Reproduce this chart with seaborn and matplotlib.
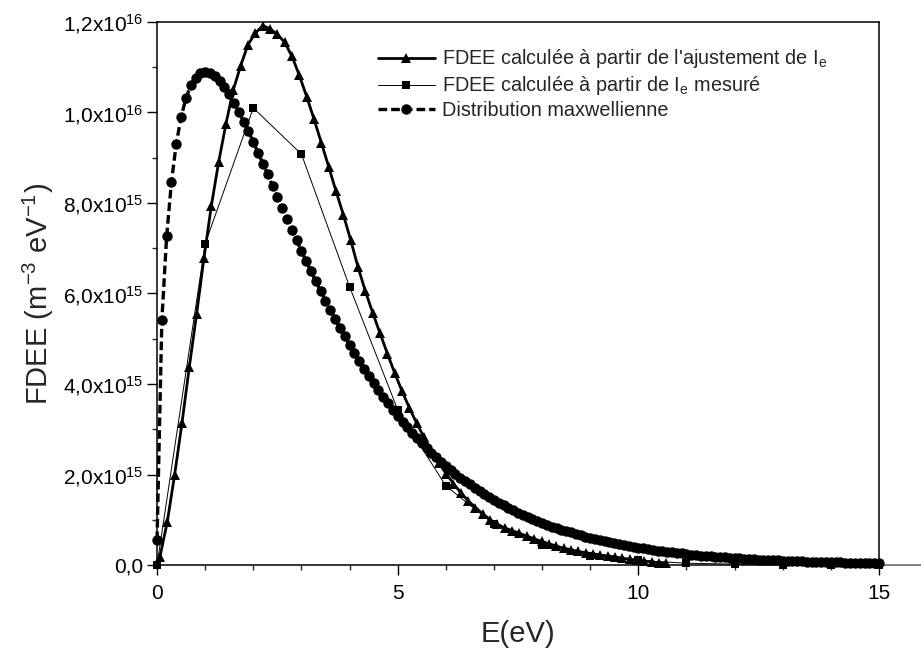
import numpy as np
import matplotlib
matplotlib.use('Agg')
import matplotlib.pyplot as plt
import matplotlib.ticker as ticker
import seaborn as sns

# Distribution maxwellienne (cercles), pas de 0,1 eV, valeurs en 1e15 m^-3 eV^-1
E_max = np.round(np.linspace(0, 15, 151), 1)
f_max = [0.55, 5.41, 7.27, 8.47, 9.31, 9.90, 10.31, 10.60, 10.77, 10.87,
         10.90, 10.87, 10.80, 10.70, 10.56, 10.40, 10.21, 10.01, 9.80, 9.58,
         9.35, 9.11, 8.87, 8.63, 8.38, 8.14, 7.90, 7.65, 7.41, 7.18,
         6.94, 6.71, 6.49, 6.27, 6.05, 5.84, 5.64, 5.43, 5.24, 5.05,
         4.86, 4.68, 4.51, 4.34, 4.18, 4.02, 3.87, 3.72, 3.57, 3.43,
         3.30, 3.17, 3.04, 2.92, 2.81, 2.69, 2.59, 2.48, 2.38, 2.28,
         2.19, 2.10, 2.01, 1.93, 1.85, 1.78, 1.70, 1.63, 1.57, 1.50,
         1.44, 1.37, 1.32, 1.26, 1.21, 1.16, 1.11, 1.06, 1.01, 0.97,
         0.93, 0.89, 0.85, 0.82, 0.78, 0.75, 0.72, 0.68, 0.66, 0.63,
         0.60, 0.57, 0.55, 0.53, 0.50, 0.48, 0.46, 0.44, 0.42, 0.40,
         0.38, 0.37, 0.35, 0.33, 0.32, 0.31, 0.29, 0.28, 0.27, 0.26,
         0.24, 0.23, 0.22, 0.21, 0.20, 0.19, 0.185, 0.18, 0.17, 0.16,
         0.15, 0.148, 0.14, 0.134, 0.128, 0.12, 0.117, 0.112, 0.107, 0.10,
         0.097, 0.093, 0.089, 0.085, 0.081, 0.077, 0.074, 0.070, 0.067, 0.064,
         0.061, 0.059, 0.056, 0.053, 0.051, 0.049, 0.046, 0.044, 0.042, 0.040,
         0.038]

# FDEE calculee a partir de l'ajustement de Ie (triangles)
E_fit = np.linspace(0.06, 10.58, 70)
f_fit = [0.18, 0.95, 1.99, 3.13, 4.37, 5.55, 6.78, 7.93, 8.90, 9.75,
         10.50, 11.03, 11.50, 11.75, 11.92, 11.85, 11.73, 11.55, 11.24, 10.82,
         10.35, 9.85, 9.33, 8.80, 8.26, 7.74, 7.18, 6.58, 6.05, 5.57,
         5.12, 4.67, 4.24, 3.84, 3.47, 3.13, 2.82, 2.53, 2.26, 2.02,
         1.80, 1.60, 1.42, 1.27, 1.13, 1.00, 0.90, 0.82, 0.76, 0.70,
         0.64, 0.58, 0.52, 0.47, 0.42, 0.37, 0.34, 0.30, 0.27, 0.25,
         0.22, 0.20, 0.18, 0.15, 0.13, 0.11, 0.09, 0.07, 0.05, 0.04]

# FDEE calculee a partir de Ie mesure (carres)
E_mes = [0, 1, 2, 3, 4, 5, 6, 7, 8, 9, 10, 11, 12, 13, 14, 15, 16]
f_mes = [0.0, 7.10, 10.10, 9.08, 6.15, 3.43, 1.75, 0.90, 0.45, 0.20,
         0.10, 0.04, 0.02, 0.01, 0.01, 0.0, 0.0]

labels = ["FDEE calculée à partir de l'ajustement de I$_{e}$",
          "FDEE calculée à partir de I$_{e}$ mesuré",
          "Distribution maxwellienne"]

sns.set_style('ticks')
plt.rcParams['font.family'] = ['Liberation Sans', 'DejaVu Sans']
plt.rcParams['mathtext.fontset'] = 'custom'
plt.rcParams['mathtext.rm'] = 'Liberation Sans'
plt.rcParams['mathtext.it'] = 'Liberation Sans'
plt.rcParams['mathtext.bf'] = 'Liberation Sans:bold'

fig = plt.figure(figsize=(9.21, 6.52), dpi=100)
ax = fig.add_axes([0.1705, 0.1334, 0.7839, 0.8329])

sns.lineplot(x=E_fit, y=np.array(f_fit) * 1e15, ax=ax, color='black',
             linewidth=2.0, marker='^', markersize=7.5, markeredgewidth=0,
             sort=False, estimator=None, label=labels[0], clip_on=False, zorder=3)
sns.lineplot(x=E_mes, y=np.array(f_mes) * 1e15, ax=ax, color='black',
             linewidth=0.7, marker='s', markersize=5.5, markeredgewidth=0,
             sort=False, estimator=None, label=labels[1], clip_on=False, zorder=4)
sns.lineplot(x=E_max, y=np.array(f_max) * 1e15, ax=ax, color='black',
             linewidth=2.4, marker='o', markersize=7.5, markeredgewidth=0,
             sort=False, estimator=None, label=labels[2], clip_on=False, zorder=2)
ax.lines[-1].set_dashes([2.6, 1.2])

ax.set_xlim(0, 15)
ax.set_ylim(0, 1.2e16)

ax.xaxis.set_major_locator(ticker.MultipleLocator(5))
ax.xaxis.set_minor_locator(ticker.MultipleLocator(1))
ax.yaxis.set_major_locator(ticker.MultipleLocator(2e15))
ax.yaxis.set_minor_locator(ticker.MultipleLocator(1e15))


def fmt_y(v, _):
    if abs(v) < 1:
        return '0,0'
    exp = int(np.floor(np.log10(abs(v)) + 1e-9))
    mant = v / 10 ** exp
    return f'{mant:.1f}'.replace('.', ',') + 'x10$^{%d}$' % exp


ax.yaxis.set_major_formatter(ticker.FuncFormatter(fmt_y))
ax.tick_params(axis='both', which='major', direction='out', length=7,
               width=1.0, labelsize=15, color='black', labelcolor='black')
ax.tick_params(axis='both', which='minor', direction='out', length=3.5, width=1.0)
ax.tick_params(axis='x', which='major', pad=7)
ax.tick_params(axis='y', which='major', pad=3)

for s in ax.spines.values():
    s.set_linewidth(1.1)
    s.set_color('black')

ax.set_xlabel('E(eV)', fontsize=21, labelpad=12)
ax.set_ylabel('FDEE (m$^{-3}$ eV$^{-1}$)', fontsize=21, labelpad=5)

ax.legend(loc='upper left', bbox_to_anchor=(0.3055, 0.953), frameon=False,
          fontsize=14.3, handlelength=2.9, handletextpad=0.35,
          labelspacing=0.2, borderaxespad=0, borderpad=0)

plt.savefig('out.png', dpi=100)
